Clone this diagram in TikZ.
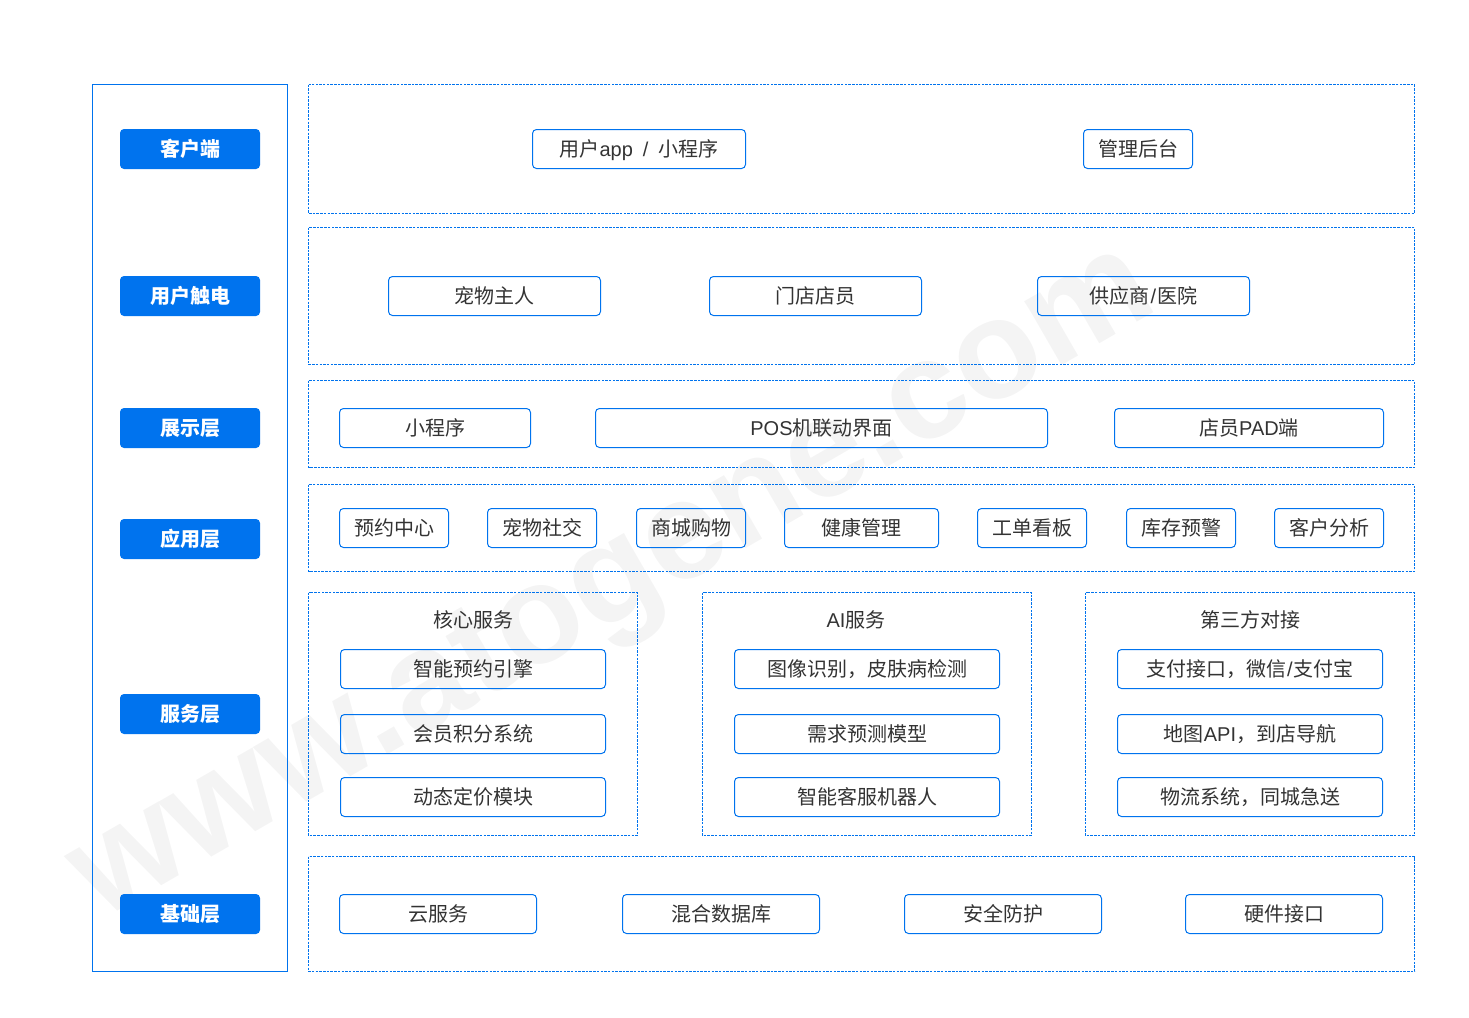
\documentclass[tikz,border=0pt]{standalone}
\usepackage{fontspec}
\setmainfont{Noto Sans CJK SC}
\newfontfamily\latinfont{Liberation Sans}
\definecolor{archblue}{HTML}{0073EE}
\definecolor{archtext}{HTML}{333333}
\definecolor{markgray}{HTML}{F4F4F4}
\tikzset{
    layerframe/.style={draw=archblue, line width=1pt, dash pattern=on 2.5pt off 1.2pt},
    layertag/.style={fill=archblue, rounded corners=4pt, minimum width=140pt, minimum height=40pt, inner sep=0pt, text height=17.2pt, text depth=2pt, text=white, font=\fontsize{20}{24}\selectfont\bfseries},
    itembox/.style={draw=archblue, line width=1pt, rounded corners=4pt, minimum height=39pt, inner sep=0pt, text height=17.2pt, text depth=2pt, text=archtext, font=\fontsize{20}{24}\selectfont},
    grouptitle/.style={text=archtext, inner sep=0pt, text height=17.2pt, text depth=2pt, font=\fontsize{20}{24}\selectfont}
}
\begin{document}
\begin{tikzpicture}[x=1pt,y=-1pt]
    \useasboundingbox (0,0) rectangle (1469,1017);
    % watermark
    \node[rotate=30, text=markgray, inner sep=0pt, font=\fontsize{140}{160}\selectfont\latinfont\bfseries] (mark) at (616,588) {www.atogene.com};

    % left column
    \draw[archblue, line width=1pt] (92.5,84.5) rectangle (287.5,971.5);
    \node[layertag] (tagclient) at (190,149) {客户端};
    \node[layertag] (tagtouch) at (190,296) {用户触电};
    \node[layertag] (tagshow) at (190,428) {展示层};
    \node[layertag] (tagapp) at (190,539) {应用层};
    \node[layertag] (tagservice) at (190,714) {服务层};
    \node[layertag] (tagbase) at (190,914) {基础层};

    % layer frames
    \draw[layerframe] (308.5,84.5) rectangle (1414.5,213.5);
    \draw[layerframe] (308.5,227.5) rectangle (1414.5,364.5);
    \draw[layerframe] (308.5,380.5) rectangle (1414.5,467.5);
    \draw[layerframe] (308.5,484.5) rectangle (1414.5,571.5);
    \draw[layerframe] (308.5,592.5) rectangle (637.5,835.5);
    \draw[layerframe] (702.5,592.5) rectangle (1031.5,835.5);
    \draw[layerframe] (1085.5,592.5) rectangle (1414.5,835.5);
    \draw[layerframe] (308.5,856.5) rectangle (1414.5,971.5);

    % client
    \node[itembox, minimum width=213pt] (userapp) at (639,149) {用户{\latinfont app\,\,\,/\,\,\,}小程序};
    \node[itembox, minimum width=109pt] (admin) at (1138,149) {管理后台};

    % touch points
    \node[itembox, minimum width=212pt] (owner) at (494.5,296) {宠物主人};
    \node[itembox, minimum width=212pt] (clerk) at (815.5,296) {门店店员};
    \node[itembox, minimum width=212pt] (supplier) at (1143.5,296) {供应商\kern1pt{\latinfont /}\kern1pt医院};

    % show
    \node[itembox, minimum width=191pt] (miniapp) at (435,428) {小程序};
    \node[itembox, minimum width=452pt] (pos) at (821.5,428) {{\latinfont POS}机联动界面};
    \node[itembox, minimum width=269pt] (pad) at (1249,428) {店员{\latinfont PAD}端};

    % apps
    \node[itembox, minimum width=109pt] (booking) at (394,528) {预约中心};
    \node[itembox, minimum width=109pt] (social) at (542,528) {宠物社交};
    \node[itembox, minimum width=109pt] (shop) at (691,528) {商城购物};
    \node[itembox, minimum width=154pt] (health) at (861.5,528) {健康管理};
    \node[itembox, minimum width=109pt] (orders) at (1032,528) {工单看板};
    \node[itembox, minimum width=109pt] (stock) at (1181,528) {库存预警};
    \node[itembox, minimum width=109pt] (customers) at (1329,528) {客户分析};

    % services
    \node[grouptitle] (coretitle) at (473,620) {核心服务};
    \node[itembox, minimum width=265pt] (engine) at (473,669) {智能预约引擎};
    \node[itembox, minimum width=265pt] (points) at (473,734) {会员积分系统};
    \node[itembox, minimum width=265pt] (pricing) at (473,797) {动态定价模块};

    \node[grouptitle] (aititle) at (856,620) {{\latinfont AI}服务};
    \node[itembox, minimum width=265pt] (vision) at (867,669) {图像识别，皮肤病检测};
    \node[itembox, minimum width=265pt] (forecast) at (867,734) {需求预测模型};
    \node[itembox, minimum width=265pt] (chatbot) at (867,797) {智能客服机器人};

    \node[grouptitle] (thirdtitle) at (1250,620) {第三方对接};
    \node[itembox, minimum width=265pt] (payment) at (1250,669) {支付接口，微信\kern1pt{\latinfont /}\kern1pt支付宝};
    \node[itembox, minimum width=265pt] (maps) at (1250,734) {地图{\latinfont API}，到店导航};
    \node[itembox, minimum width=265pt] (delivery) at (1250,797) {物流系统，同城急送};

    % base
    \node[itembox, minimum width=197pt] (cloud) at (438,914) {云服务};
    \node[itembox, minimum width=197pt] (database) at (721,914) {混合数据库};
    \node[itembox, minimum width=197pt] (security) at (1003,914) {安全防护};
    \node[itembox, minimum width=197pt] (hardware) at (1284,914) {硬件接口};
\end{tikzpicture}
\end{document}
